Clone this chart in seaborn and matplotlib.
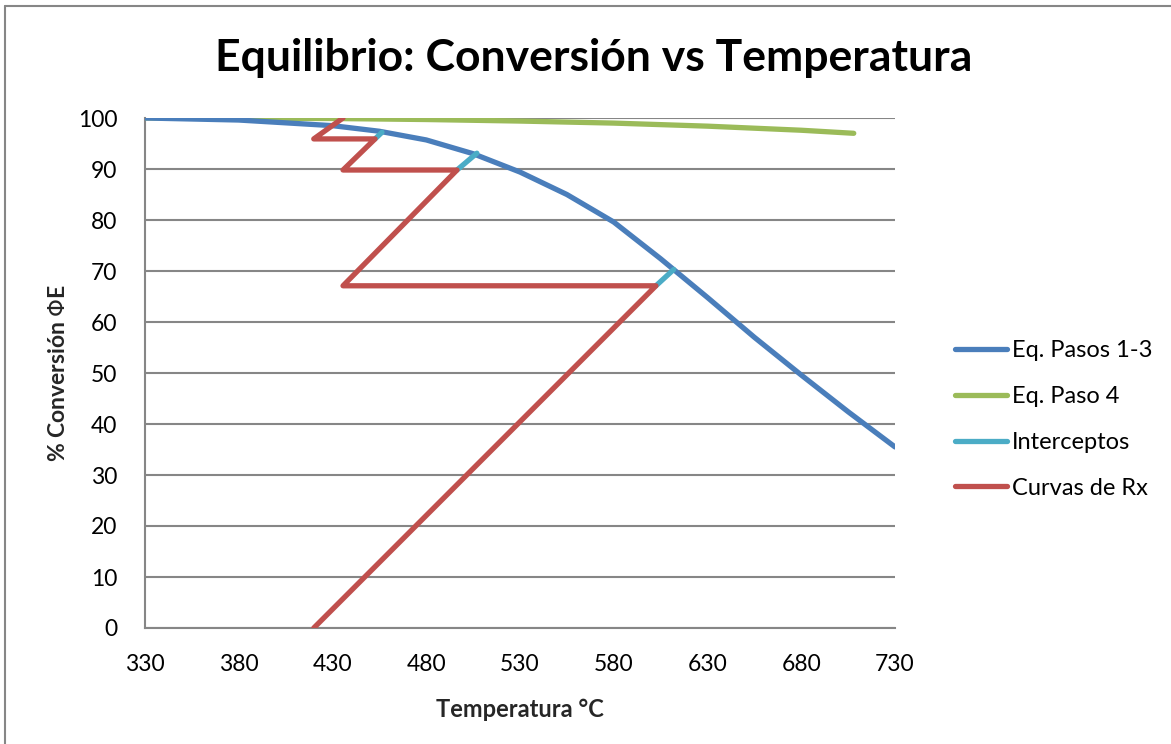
import matplotlib
matplotlib.use("Agg")
import matplotlib.pyplot as plt
from matplotlib.lines import Line2D
import pandas as pd
import seaborn as sns

# Equilibrium curve, steps 1-3
temp_eq13 = [330, 380, 430, 455, 480, 505, 530, 555, 580, 605, 630, 655, 680, 705, 730]
conv_eq13 = [100, 99.6, 98.5, 97.4, 95.7, 93.0, 89.4, 85.0, 79.6, 72.4, 64.8, 57.0, 49.6, 42.4, 35.5]

# Equilibrium curve, step 4
temp_eq4 = [330, 430, 480, 530, 580, 630, 680, 708]
conv_eq4 = [100, 99.9, 99.7, 99.4, 99.0, 98.4, 97.6, 97.0]

# Adiabatic reaction path through the beds (with inter-stage cooling)
temp_rx = [420, 602.5, 435.6, 496.4, 435.6, 452.7, 420, 435.6]
conv_rx = [0, 67.1, 67.1, 89.8, 89.8, 95.9, 95.9, 100]

# Intercepts between each bed outlet and the equilibrium curve
icpt_id = [1, 1, 2, 2, 3, 3]
temp_icpt = [602.5, 612, 496.4, 507, 452.7, 456.4]
conv_icpt = [67.1, 70.3, 89.8, 93.1, 95.9, 97.2]

x_ticks = [330, 380, 430, 480, 530, 580, 630, 680, 730]
y_ticks = [0, 10, 20, 30, 40, 50, 60, 70, 80, 90, 100]

series_names = ["Eq. Pasos 1-3", "Eq. Paso 4", "Interceptos", "Curvas de Rx"]
series_colors = ["#4A7EBB", "#9BBB59", "#4BACC6", "#C0504D"]

sns.set_theme(style="white")
plt.rcParams["font.family"] = ["Lato", "DejaVu Sans"]
plt.rcParams["text.color"] = "black"
plt.rcParams["mathtext.fontset"] = "dejavusans"

fig = plt.figure(figsize=(11.71, 7.44), dpi=100)
ax = fig.add_axes([145 / 1171, 1 - 628 / 744, 750 / 1171, 510 / 744])

lw = 3.8
df13 = pd.DataFrame({"T": temp_eq13, "X": conv_eq13})
df4 = pd.DataFrame({"T": temp_eq4, "X": conv_eq4})
dfrx = pd.DataFrame({"T": temp_rx, "X": conv_rx})
dfi = pd.DataFrame({"seg": icpt_id, "T": temp_icpt, "X": conv_icpt})

line_kw = dict(solid_capstyle="round", solid_joinstyle="round", clip_on=True)
sns.lineplot(data=df13, x="T", y="X", ax=ax, color=series_colors[0], lw=lw,
             sort=False, estimator=None, zorder=4, **line_kw)
sns.lineplot(data=df4, x="T", y="X", ax=ax, color=series_colors[1], lw=lw,
             sort=False, estimator=None, zorder=3, **line_kw)
sns.lineplot(data=dfi, x="T", y="X", units="seg", ax=ax, color=series_colors[2],
             lw=lw, sort=False, estimator=None, zorder=5, **line_kw)
sns.lineplot(data=dfrx, x="T", y="X", ax=ax, color=series_colors[3], lw=lw,
             sort=False, estimator=None, zorder=6, **line_kw)

ax.set_xlim(330, 730)
ax.set_ylim(0, 100)
ax.set_xticks(x_ticks)
ax.set_yticks(y_ticks)
ax.tick_params(axis="both", length=0, labelsize=16.5, colors="black")
ax.tick_params(axis="x", pad=19)
ax.tick_params(axis="y", pad=20)
ax.grid(axis="y", color="#868686", lw=1.5)
ax.grid(axis="x", visible=False)
ax.set_axisbelow(True)
for side in ["top", "right"]:
    ax.spines[side].set_visible(False)
for side in ["left", "bottom"]:
    ax.spines[side].set_color("#868686")
    ax.spines[side].set_linewidth(1.5)

ax.set_xlabel("Temperatura °C", fontsize=17, fontweight="bold", labelpad=16)
ax.set_ylabel(r"% Conversión $\mathit{\Phi}$E", fontsize=16.5, fontweight="bold",
              labelpad=6)

fig.suptitle("Equilibrio: Conversión vs Temperatura", fontsize=32,
             fontweight="bold", y=1 - 58 / 744, va="center", x=594 / 1171)

handles = [Line2D([0], [0], color=c, lw=lw, solid_capstyle="round") for c in series_colors]
fig.legend(handles, series_names, loc="center left",
           bbox_to_anchor=(955 / 1171, 1 - 419.5 / 744), frameon=False,
           fontsize=17, handlelength=2.2, handletextpad=0.2,
           labelspacing=1.05, borderpad=0, borderaxespad=0)

# chart-area border (top and left edges)
fig.add_artist(Line2D([5 / 1171, 1], [1 - 6 / 744, 1 - 6 / 744], color="#868686", lw=1.5))
fig.add_artist(Line2D([5 / 1171, 5 / 1171], [0, 1 - 6 / 744], color="#868686", lw=1.5))

fig.savefig("out.png", dpi=100)
